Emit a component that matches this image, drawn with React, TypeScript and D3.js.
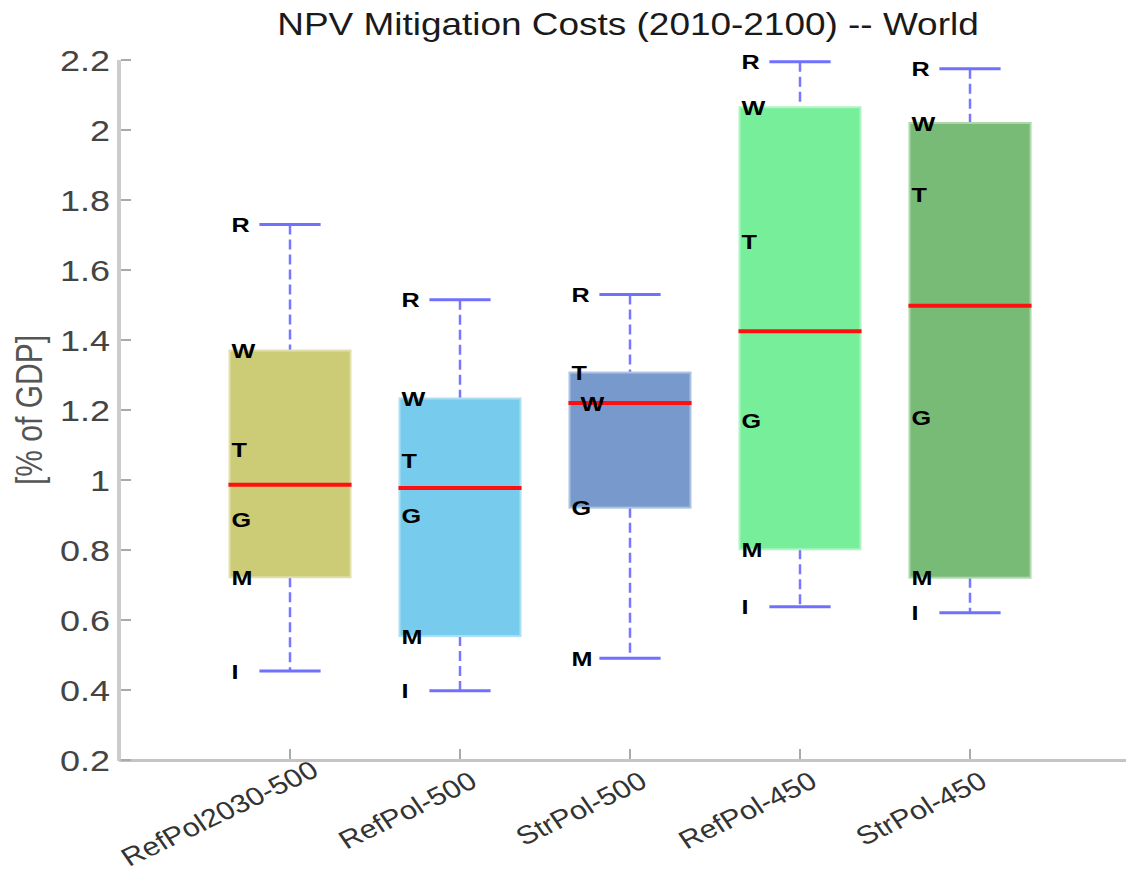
import React from "react";
import * as d3 from "d3";

const categories = ["RefPol2030-500", "RefPol-500", "StrPol-500", "RefPol-450", "StrPol-450"];
const modelNames = ["R", "W", "T", "G", "M", "I"];
const modelR = [1.73, 1.515, 1.53, 2.195, 2.175];
const modelW = [1.37, 1.233, 1.22, 2.065, 2.02];
const modelT = [1.087, 1.057, 1.307, 1.681, 1.817];
const modelG = [0.886, 0.898, 0.921, 1.169, 1.179];
const modelM = [0.722, 0.554, 0.491, 0.802, 0.721];
const modelI: (number | null)[] = [0.454, 0.398, null, 0.638, 0.621];
const boxColors = ["#CCCC77", "#77CCEE", "#7799CC", "#77EE99", "#77BB77"];
const yTicks = [0.2, 0.4, 0.6, 0.8, 1, 1.2, 1.4, 1.6, 1.8, 2, 2.2];
const titleText = "NPV Mitigation Costs (2010-2100) -- World";
const yLabelText = "[% of GDP]";

const W = 1126;
const H = 875;
const SX = 1.2; // horizontal stretch of the reference's text
const FONT = "'Liberation Sans', Arial, Helvetica, sans-serif";
const XL_SIZE = 25.5;

function measure(text: string, size: number): number {
  try {
    const ctx = document.createElement("canvas").getContext("2d");
    if (ctx) {
      ctx.font = `${size}px ${FONT}`;
      return ctx.measureText(text).width;
    }
  } catch (e) {}
  return text.length * size * 0.52;
}

export default function App() {
  const x = d3.scaleLinear().domain([0, 6]).range([120, 1140]);
  const y = d3.scaleLinear().domain([0.2, 2.2]).range([760, 60]);
  const half = x(0.356) - x(0);
  const capHalf = x(0.18) - x(0);
  const models = [modelR, modelW, modelT, modelG, modelM, modelI];
  const cos30 = Math.cos(Math.PI / 6);
  const sin30 = 0.5;

  const boxes = categories.map((c, i) => {
    const vals = models
      .map((m, k) => ({ name: modelNames[k], v: m[i] }))
      .filter((d) => d.v !== null && d.v !== undefined) as { name: string; v: number }[];
    const sorted = vals.map((d) => d.v).sort(d3.ascending);
    const n = sorted.length;
    return {
      cat: c,
      i,
      vals,
      lo: sorted[0],
      q1: sorted[1],
      med: d3.median(sorted) as number,
      q3: sorted[n - 2],
      hi: sorted[n - 1],
      color: boxColors[i],
    };
  });

  return (
    <svg
      width={W}
      height={H}
      style={{ position: "absolute", left: 0, top: 0, background: "#fff" }}
      fontFamily={FONT}
    >
      <rect x={0} y={0} width={W} height={H} fill="#fff" />
      {/* title */}
      <text
        transform={`translate(628,35) scale(${SX},1)`}
        textAnchor="middle"
        fontSize={30.8}
        fill="#1a1a1a"
      >
        {titleText}
      </text>
      {/* y label */}
      <text
        transform={`translate(42,410) scale(${SX},1) rotate(-90)`}
        textAnchor="middle"
        fontSize={30}
        fill="#555"
      >
        {yLabelText}
      </text>
      {/* axes */}
      <line x1={119} x2={119} y1={y(2.2)} y2={761} stroke="#cccccc" strokeWidth={4} />
      <line x1={119} x2={W} y1={760.5} y2={760.5} stroke="#c4c4c4" strokeWidth={3} />
      {yTicks.map((t) => (
        <g key={t}>
          <line x1={121} x2={131} y1={y(t)} y2={y(t)} stroke="#aaaaaa" strokeWidth={2} />
          <text
            transform={`translate(110,${y(t)}) scale(${SX},1)`}
            textAnchor="end"
            dy="0.36em"
            fontSize={30}
            fill="#444"
          >
            {d3.format("")(t)}
          </text>
        </g>
      ))}
      {categories.map((c, i) => {
        const w = measure(c, XL_SIZE);
        let ax = x(i + 1) + 19;
        let ay = 786;
        const leftMost = ax - w * cos30 * SX - XL_SIZE * 0.72 * sin30 * SX;
        if (leftMost < 118) ax += 118 - leftMost;
        const bottom = ay + w * sin30 + XL_SIZE * 0.22 * cos30;
        if (bottom > 872) ay -= bottom - 872;
        return (
          <g key={c}>
            <line x1={x(i + 1)} x2={x(i + 1)} y1={749} y2={759} stroke="#aaaaaa" strokeWidth={2} />
            <text
              transform={`translate(${ax},${ay}) scale(${SX},1) rotate(-30)`}
              textAnchor="end"
              fontSize={XL_SIZE}
              fill="#333"
            >
              {c}
            </text>
          </g>
        );
      })}
      {/* boxes */}
      {boxes.map((b) => {
        const cx = x(b.i + 1);
        const edge = d3.interpolateRgb(b.color, "#ffffff")(0.4);
        return (
          <g key={b.cat}>
            <line x1={cx} x2={cx} y1={y(b.hi)} y2={y(b.q3)} stroke="#7777ff" strokeWidth={2.5} strokeDasharray="10,5" />
            <line x1={cx} x2={cx} y1={y(b.q1)} y2={y(b.lo)} stroke="#7777ff" strokeWidth={2.5} strokeDasharray="10,5" />
            <line x1={cx - capHalf} x2={cx + capHalf} y1={y(b.hi)} y2={y(b.hi)} stroke="#7070ff" strokeWidth={3} />
            <line x1={cx - capHalf} x2={cx + capHalf} y1={y(b.lo)} y2={y(b.lo)} stroke="#7070ff" strokeWidth={3} />
            <rect
              x={cx - half}
              y={y(b.q3)}
              width={2 * half}
              height={y(b.q1) - y(b.q3)}
              fill={b.color}
              stroke={edge}
              strokeWidth={2}
            />
            <line x1={cx - half - 1} x2={cx + half + 1} y1={y(b.med)} y2={y(b.med)} stroke="#ff1010" strokeWidth={4} />
            {b.vals.map((d) => {
              const nudge = Math.abs(y(d.v) - y(b.med)) < 4 ? 9 : 0;
              return (
                <text
                  key={d.name}
                  transform={`translate(${cx - half + 2 + nudge},${y(d.v) + 7.5}) scale(${SX},1)`}
                  fontSize={21}
                  fontWeight="bold"
                  fill="#000"
                >
                  {d.name}
                </text>
              );
            })}
          </g>
        );
      })}
    </svg>
  );
}
